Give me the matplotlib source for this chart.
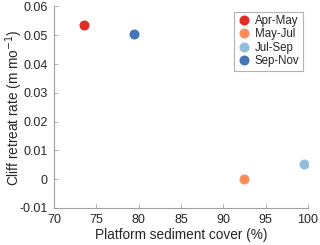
import matplotlib
matplotlib.use("Agg")
import matplotlib.pyplot as plt

periods = ["Apr-May", "May-Jul", "Jul-Sep", "Sep-Nov"]
sediment_cover = [73.5, 92.5, 99.5, 79.5]
retreat_rate = [0.0535, 0.0, 0.0052, 0.0503]
colors = ["#de2d26", "#fc8d59", "#91bfdb", "#4575b4"]

plt.rcParams['font.family'] = ['Liberation Sans', 'DejaVu Sans']
fig = plt.figure(figsize=(3.2, 2.45), dpi=100)
ax = fig.add_axes([54/320, 1-208/245, (308-54)/320, (208-6.5)/245])

for x, y, c, lab in zip(sediment_cover, retreat_rate, colors, periods):
    ax.plot(x, y, 'o', color=c, markersize=6.2, label=lab, linestyle='none')

ax.set_xlim(70, 100)
ax.set_ylim(-0.01, 0.06)
ax.set_xticks(range(70, 101, 5))
ax.set_yticks([-0.01, 0, 0.01, 0.02, 0.03, 0.04, 0.05, 0.06])
ax.set_yticklabels(["-0.01", "0", "0.01", "0.02", "0.03", "0.04", "0.05", "0.06"])
for s in ['top', 'right']:
    ax.spines[s].set_visible(False)
for s in ['left', 'bottom']:
    ax.spines[s].set_color('#a0a0a0')
    ax.spines[s].set_linewidth(0.8)
ax.tick_params(direction='in', length=3, width=0.6, color='#a0a0a0',
               labelsize=9, labelcolor='#262626')
ax.tick_params(axis='y', pad=4.5)
ax.tick_params(axis='x', pad=4.5)
ax.set_xlabel("Platform sediment cover (%)", fontsize=9.8, color='#262626')
ax.set_ylabel("Cliff retreat rate (m mo$^{-1}$)", fontsize=9.8, color='#262626')
ax.xaxis.set_label_coords(0.5, -0.135, transform=ax.transAxes)
ax.xaxis.label.set_va('center')
ax.yaxis.set_label_coords(-0.157, 0.5, transform=ax.transAxes)
ax.yaxis.label.set_va('center')

leg = ax.legend(loc='upper right', fontsize=8.3, frameon=True, fancybox=False,
                handletextpad=0.3, borderpad=0.3, labelspacing=0.12,
                handlelength=1.2, borderaxespad=0, bbox_to_anchor=(0.98, 0.975))
leg.get_frame().set_edgecolor('#a0a0a0')
leg.get_frame().set_linewidth(0.8)
for t in leg.get_texts():
    t.set_color('#262626')

fig.savefig("out.png", dpi=100)
